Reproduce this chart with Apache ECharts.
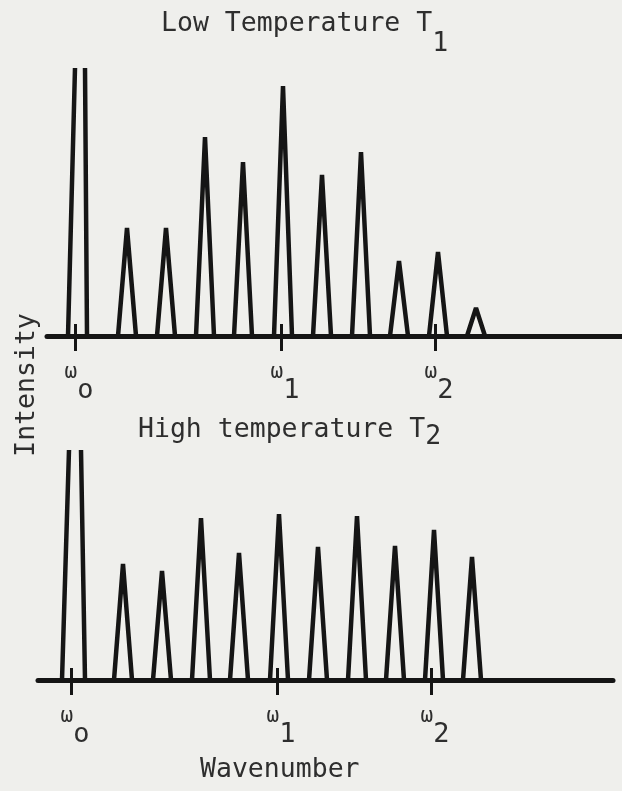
<!DOCTYPE html>
<html>
<head>
<meta charset="utf-8">
<script src="https://cdn.jsdelivr.net/npm/echarts@6.0.0/dist/echarts.min.js"></script>
<style>
html, body { margin: 0; padding: 0; background: #efefec; }
#chart { width: 622px; height: 791px; }
</style>
</head>
<body>
<div id="chart"></div>
<script>
// wavenumber position of each rotational line (omega0 = 0)
var peakPos = [52, 91, 130, 168, 208, 247, 286, 324, 363, 401];
// peak intensities, low temperature T1 / high temperature T2
var lowT = [108, 108, 199, 174, 250, 161, 184, 75, 84, 28];
var highT = [116, 109, 162, 127, 166, 133, 164, 134, 150, 123];
// the off-scale Rayleigh line at omega0: two edges [x, intensity]
var rayleighLow = [[-7, 0], [0, 268], [10, 268], [12, 0]];
var rayleighHigh = [[-9, 0], [-2, 230], [10, 230], [14, 0]];
// marked wavenumbers and their subscripts
var tickPos = [0, 206, 360];
var tickSub = ['o', '1', '2'];

var INK = '#151515';
var TXT = '#2e2e2e';
var FONT = 'DejaVu Sans Mono';
var HALF = 9; // half width of a line at the base

var myChart = echarts.init(document.getElementById('chart'), null, { renderer: 'canvas' });

// triangles for every line, broken apart with '-'
function buildTrace(rayleigh, heights) {
	var d = [];
	d.push(rayleigh[0], rayleigh[1], [rayleigh[1][0] + 1, '-']);
	d.push(rayleigh[2], rayleigh[3], [rayleigh[3][0] + 1, '-']);
	for (var i = 0; i < peakPos.length; i++) {
		var p = peakPos[i];
		d.push([p - HALF, 0], [p, heights[i]], [p + HALF, 0], [p + HALF + 1, '-']);
	}
	return d;
}

function omegaLabel(v) {
	var i = 0;
	for (var k = 0; k < tickPos.length; k++) {
		if (Math.abs(tickPos[k] - v) < 1e-6) i = k;
	}
	return '{w|ω}{s|' + tickSub[i] + '}';
}

// axis with the labels and the downward ticks
function mainAxis(gi, min) {
	return {
		type: 'value', gridIndex: gi, min: min, max: min + 575, position: 'bottom',
		axisLine: { lineStyle: { color: INK, width: 5 } },
		axisTick: { customValues: tickPos, length: 15, lineStyle: { color: INK, width: 3 } },
		axisLabel: {
			customValues: tickPos, margin: 26, formatter: omegaLabel,
			rich: {
				w: { fontFamily: FONT, fontSize: 21, lineHeight: 21, color: TXT, verticalAlign: 'top', padding: [0, 0, 0, 8] },
				s: { fontFamily: FONT, fontSize: 27, lineHeight: 27, color: TXT, verticalAlign: 'top', padding: [15, 0, 0, 0] }
			}
		},
		splitLine: { show: false }
	};
}
// second axis on the same line, only for the upward part of the ticks
function upTickAxis(gi, min) {
	return {
		type: 'value', gridIndex: gi, min: min, max: min + 575, position: 'top', offset: -300,
		axisLine: { show: false },
		axisTick: { customValues: tickPos, length: 12, lineStyle: { color: INK, width: 3 } },
		axisLabel: { show: false },
		splitLine: { show: false }
	};
}

function titleText(main, sub, drop) {
	return {
		text: '{n|' + main + '}{s|' + sub + '}',
		textStyle: {
			fontWeight: 'normal',
			rich: {
				n: { fontFamily: FONT, fontSize: 26.5, fontWeight: 'normal', lineHeight: 26.5, color: TXT, verticalAlign: 'top' },
				s: { fontFamily: FONT, fontSize: 26.5, fontWeight: 'normal', lineHeight: 26.5, color: TXT, verticalAlign: 'top', padding: [drop, 0, 0, 0] }
			}
		}
	};
}

var t1 = titleText('Low Temperature T', '1', 20);
var t2 = titleText('High temperature T', '2', 7);

var options = {
	backgroundColor: '#efefec',
	animation: false,
	title: [
		{ text: t1.text, textStyle: t1.textStyle, left: 161, top: 11, padding: 0 },
		{ text: t2.text, textStyle: t2.textStyle, left: 138, top: 417, padding: 0 },
		{
			text: '{n|Wavenumber}', left: 200, top: 757, padding: 0,
			textStyle: { fontWeight: 'normal', rich: { n: { fontFamily: FONT, fontSize: 26.5, fontWeight: 'normal', lineHeight: 26.5, color: TXT } } }
		}
	],
	graphic: [{
		type: 'text', x: 27, y: 385, rotation: Math.PI / 2,
		style: { text: 'Intensity', font: '26.5px "DejaVu Sans Mono"', fill: TXT, align: 'center', verticalAlign: 'middle' }
	}],
	grid: [
		{ left: 47, top: 36, width: 575, height: 300 },
		{ left: 38, top: 380, width: 575, height: 300 }
	],
	xAxis: [mainAxis(0, -28), upTickAxis(0, -28), mainAxis(1, -33), upTickAxis(1, -33)],
	yAxis: [
		{ type: 'value', gridIndex: 0, min: 0, max: 300, show: false },
		{ type: 'value', gridIndex: 1, min: 0, max: 300, show: false }
	],
	series: [
		{
			name: 'Low Temperature T1', type: 'line', xAxisIndex: 0, yAxisIndex: 0,
			symbol: 'none', connectNulls: false,
			lineStyle: { color: INK, width: 4.5 },
			data: buildTrace(rayleighLow, lowT)
		},
		{
			name: 'High temperature T2', type: 'line', xAxisIndex: 2, yAxisIndex: 1,
			symbol: 'none', connectNulls: false,
			lineStyle: { color: INK, width: 4.5 },
			data: buildTrace(rayleighHigh, highT)
		}
	]
};
myChart.setOption(options);
</script>
</body>
</html>
